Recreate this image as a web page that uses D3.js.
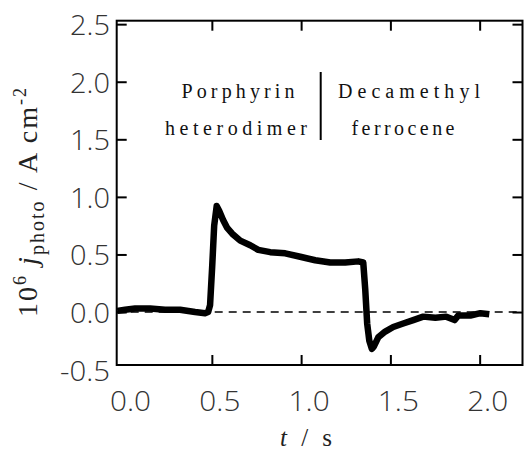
<!DOCTYPE html>
<html>
<head>
<meta charset="utf-8">
<script src="https://cdn.jsdelivr.net/npm/d3@7"></script>
<style>
  html, body { margin: 0; padding: 0; background: #fff; }
  svg { display: block; }
</style>
</head>
<body>
<svg id="chart" width="524" height="453"></svg>
<script>
// Photocurrent transient: time (s) and current density (10^-6 A cm^-2)
const timeS = [-0.03, 0.014, 0.07, 0.154, 0.238, 0.322, 0.406, 0.462, 0.479, 0.490, 0.502, 0.513, 0.527,
  0.541, 0.563, 0.586, 0.614, 0.659, 0.715, 0.760, 0.827, 0.911, 0.995, 1.079, 1.163, 1.247, 1.320,
  1.348, 1.359, 1.370, 1.382, 1.396, 1.407, 1.432, 1.471, 1.516, 1.572, 1.628, 1.684, 1.752, 1.813,
  1.860, 1.880, 1.948, 2.004, 2.054];
const jPhoto = [0.01, 0.02, 0.03, 0.03, 0.02, 0.02, 0.0, -0.01, 0.0, 0.06, 0.40, 0.75, 0.92,
  0.88, 0.80, 0.73, 0.68, 0.62, 0.58, 0.54, 0.52, 0.51, 0.48, 0.45, 0.43, 0.43, 0.44,
  0.43, 0.20, -0.10, -0.25, -0.32, -0.30, -0.22, -0.17, -0.13, -0.10, -0.07, -0.04, -0.05, -0.04,
  -0.07, -0.03, -0.03, -0.01, -0.02];

const xTickValues = [0.5, 1.0, 1.5, 2.0];
const xLabelValues = [0.0, 0.5, 1.0, 1.5, 2.0];
const yTickValues = [0.0, 0.5, 1.0, 1.5, 2.0, 2.5];
const yLabelValues = [-0.5, 0.0, 0.5, 1.0, 1.5, 2.0, 2.5];
const annotationLeft = ["Porphyrin", "heterodimer"];
const annotationRight = ["Decamethyl", "ferrocene"];

const svg = d3.select("#chart");
const frame = { left: 116.7, right: 522.5, top: 20.7, bottom: 365 };

const x = d3.scaleLinear().domain([-0.033, 2.24]).range([frame.left, frame.right]);
const y = d3.scaleLinear().domain([-0.46, 2.53]).range([frame.bottom, frame.top]);

const numFont = "'Open Sans', 'Liberation Sans', sans-serif";
const serifFont = "'Liberation Serif', 'DejaVu Serif', serif";

// zero reference line
svg.append("line")
  .attr("x1", frame.left).attr("x2", frame.right)
  .attr("y1", y(0)).attr("y2", y(0))
  .attr("stroke", "#000").attr("stroke-width", 1.6)
  .attr("stroke-dasharray", "8,6");

// current trace
const line = d3.line().x((d, i) => x(timeS[i])).y(d => y(d));
svg.append("path")
  .datum(jPhoto)
  .attr("d", line)
  .attr("fill", "none")
  .attr("stroke", "#000")
  .attr("stroke-width", 6.5)
  .attr("stroke-linejoin", "round")
  .attr("stroke-linecap", "butt");

// inward ticks on all four sides
function tickAxis(axis, tx, ty) {
  const g = svg.append("g").attr("transform", `translate(${tx},${ty})`).call(axis);
  g.select(".domain").remove();
  g.selectAll(".tick line").attr("stroke", "#000").attr("stroke-width", 2);
  g.selectAll(".tick text").remove();
}
tickAxis(d3.axisBottom(x).tickValues(xTickValues).tickSize(-10), 0, frame.bottom);
tickAxis(d3.axisTop(x).tickValues(xTickValues).tickSize(-10), 0, frame.top);
tickAxis(d3.axisLeft(y).tickValues(yTickValues).tickSize(-10), frame.left, 0);
tickAxis(d3.axisRight(y).tickValues(yTickValues).tickSize(-10), frame.right, 0);

// frame
svg.append("rect")
  .attr("x", frame.left).attr("y", frame.top)
  .attr("width", frame.right - frame.left).attr("height", frame.bottom - frame.top)
  .attr("fill", "none").attr("stroke", "#000").attr("stroke-width", 2);

// tick labels
svg.append("g").selectAll("text")
  .data(xLabelValues).join("text")
  .attr("x", d => x(d) + 8)
  .attr("y", 411)
  .attr("text-anchor", "middle")
  .attr("font-family", numFont)
  .attr("font-weight", 300)
  .attr("font-size", 28)
  .attr("textLength", 41)
  .attr("lengthAdjust", "spacingAndGlyphs")
  .attr("fill", "#333")
  .text(d => d3.format(".1f")(d));

svg.append("g").selectAll("text")
  .data(yLabelValues).join("text")
  .attr("x", 110)
  .attr("y", d => y(d) + 11)
  .attr("text-anchor", "end")
  .attr("font-family", numFont)
  .attr("font-weight", 300)
  .attr("font-size", 28)
  .attr("textLength", d => d < 0 ? 50 : 40)
  .attr("lengthAdjust", "spacingAndGlyphs")
  .attr("fill", "#333")
  .text(d => d < 0 ? "-" + d3.format(".1f")(-d) : d3.format(".1f")(d));

// y axis title
const yTitle = svg.append("text")
  .attr("transform", "translate(37,202.5) rotate(-90)")
  .attr("text-anchor", "middle")
  .attr("font-family", serifFont)
  .attr("font-size", 28)
  .attr("textLength", 229)
  .attr("lengthAdjust", "spacing")
  .attr("fill", "#222");
yTitle.append("tspan").text("10");
yTitle.append("tspan").attr("font-size", 18).attr("dy", -11).text("6");
yTitle.append("tspan").attr("dy", 11).text(" ");
yTitle.append("tspan").attr("font-style", "italic").text("j");
yTitle.append("tspan").attr("font-size", 20).attr("dy", 7).text("photo");
yTitle.append("tspan").attr("dy", -7).text(" / A cm");
yTitle.append("tspan").attr("font-size", 18).attr("dy", -11).text("-2");

// x axis title
const xTitle = svg.append("text")
  .attr("x", 306).attr("y", 446)
  .attr("text-anchor", "middle")
  .attr("font-family", serifFont)
  .attr("font-size", 25)
  .attr("textLength", 52)
  .attr("lengthAdjust", "spacing")
  .attr("fill", "#222");
xTitle.append("tspan").attr("font-style", "italic").text("t");
xTitle.append("tspan").text(" / s");

// annotations
const annLeft = [{ cx: 238, by: 98, w: 113 }, { cx: 236, by: 135, w: 142 }];
const annRight = [{ cx: 409, by: 98, w: 142 }, { cx: 403, by: 135, w: 103 }];
function annotate(texts, pos) {
  svg.append("g").selectAll("text")
    .data(texts).join("text")
    .attr("x", (d, i) => pos[i].cx)
    .attr("y", (d, i) => pos[i].by)
    .attr("text-anchor", "middle")
    .attr("font-family", serifFont)
    .attr("font-size", 20)
    .attr("textLength", (d, i) => pos[i].w)
    .attr("lengthAdjust", "spacing")
    .attr("fill", "#111")
    .text(d => d);
}
annotate(annotationLeft, annLeft);
annotate(annotationRight, annRight);

svg.append("line")
  .attr("x1", 320.7).attr("x2", 320.7)
  .attr("y1", 72).attr("y2", 140)
  .attr("stroke", "#000").attr("stroke-width", 2);
</script>
</body>
</html>
